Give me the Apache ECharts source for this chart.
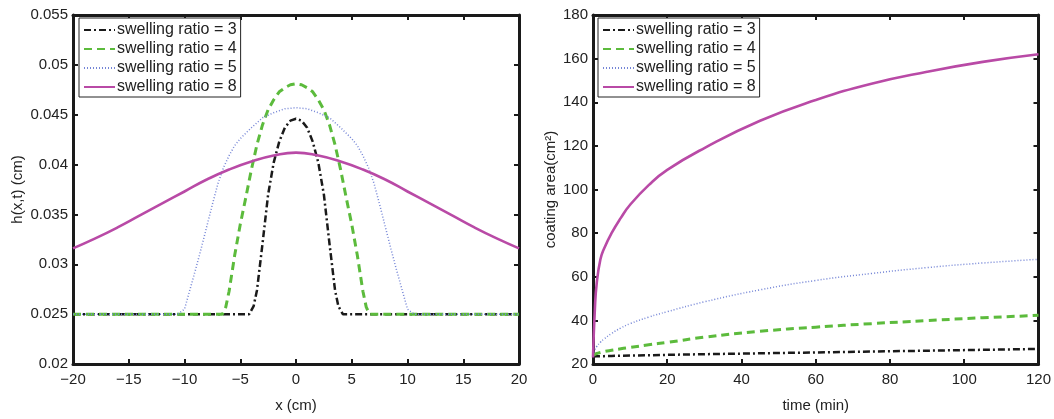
<!DOCTYPE html>
<html><head><meta charset="utf-8">
<script src="https://cdn.jsdelivr.net/npm/echarts@6/dist/echarts.min.js"></script>
<style>html,body{margin:0;padding:0;background:#fff}#c{width:1054px;height:419px}</style>
</head><body><div id="c"></div>
<script>
const seriesNames = ['swelling ratio = 3','swelling ratio = 4','swelling ratio = 5','swelling ratio = 8'];
const seriesColors = ['#1a1a1a','#5cbb3c','#7485d6','#b94aa6'];

// Left panel: h(x,t) profiles
const x3 = [-20,-4.2,-3.8,-3.5,-3,-2.5,-2,-1.5,-1,-0.5,0,0.5,1,1.5,2,2.5,3,3.5,3.8,4.2,20];
const h3 = [0.025,0.025,0.0258,0.0274,0.0321,0.0370,0.0402,0.0423,0.0437,0.0444,0.0446,0.0444,0.0437,0.0423,0.0402,0.0370,0.0321,0.0274,0.0258,0.025,0.025];
const x4 = [-20,-6.6,-6.3,-6,-5.5,-5,-4.5,-4,-3.5,-3,-2.5,-2,-1.5,-1,-0.5,0,0.5,1,1.5,2,2.5,3,3.5,4,4.5,5,5.5,6,6.3,6.6,20];
const h4 = [0.025,0.025,0.0257,0.0273,0.0309,0.0340,0.0367,0.0395,0.0420,0.0440,0.0455,0.0465,0.0473,0.0477,0.0480,0.0481,0.0480,0.0477,0.0473,0.0465,0.0455,0.0440,0.0420,0.0395,0.0367,0.0340,0.0309,0.0273,0.0257,0.025,0.025];
const x5 = [-20,-10.6,-10,-9.5,-9,-8.5,-8,-7.5,-7,-6.5,-6,-5.5,-5,-4,-3,-2,-1,0,1,2,3,4,5,5.5,6,6.5,7,7.5,8,8.5,9,9.5,10,10.6,20];
const h5 = [0.025,0.025,0.0255,0.0275,0.0295,0.0316,0.0338,0.0360,0.0381,0.0397,0.0409,0.0419,0.0426,0.0437,0.0447,0.0452,0.0456,0.0457,0.0456,0.0452,0.0447,0.0437,0.0426,0.0419,0.0409,0.0397,0.0381,0.0360,0.0338,0.0316,0.0295,0.0275,0.0255,0.025,0.025];
const x8 = [-20,-18,-16,-14,-12,-10,-8,-6,-4,-2,0,2,4,6,8,10,12,14,16,18,20];
const h8 = [0.0316,0.0326,0.0337,0.0349,0.0361,0.0373,0.0385,0.0395,0.0403,0.0409,0.0412,0.0409,0.0403,0.0395,0.0385,0.0373,0.0361,0.0349,0.0337,0.0326,0.0316];

// Right panel: coating area vs time
const tMin = [0,0.5,1,2,3,5,7.5,10,15,20,30,45,60,75,90,105,120];
const area3 = [23.4,23.5,23.5,23.6,23.6,23.7,23.8,23.9,24.0,24.2,24.5,24.9,25.3,25.7,26.1,26.5,26.9];
const area4 = [24.0,24.4,24.8,25.3,25.7,26.3,27.0,27.6,28.8,29.9,32.3,35.0,36.9,38.5,39.9,41.2,42.3];
const area5 = [24.0,26.5,28.0,30.0,31.5,34.0,36.5,38.5,41.5,44.0,48.5,54.0,58.3,61.5,64.2,66.3,68.0];
const area8 = [23.0,45.0,57.0,68.0,73.0,80.0,87.0,93.0,102.0,109.0,119.0,131.5,141.0,148.5,154.0,158.5,162.0];

const leftXTicks = {min:-20, max:20, interval:5};
const leftYTicks = {min:0.02, max:0.055, interval:0.005};
const rightXTicks = {min:0, max:120, interval:20};
const rightYTicks = {min:20, max:180, interval:20};

const FONT = "'Liberation Sans', Arial, Helvetica, sans-serif";
const TXT = '#222';
const AXC = '#1a1a1a';

function pairs(xs, ys){ return xs.map((x,i)=>[x, ys[i]]); }
function fmtNum(v){ return String(+v.toFixed(4)).replace('-', '\u2212'); }

function axis(kind, grid, ticks, position, showLabel, name, nameGap){
  const a = {
    type:'value', gridIndex:grid, position:position,
    min:ticks.min, max:ticks.max, interval:ticks.interval,
    splitLine:{show:false},
    axisLine:{show:true, onZero:false, lineStyle:{color:AXC, width:3}},
    axisTick:{show:true, inside:true, length:5, lineStyle:{color:AXC, width:2}},
    axisLabel:{show:showLabel, color:TXT, fontFamily:FONT, fontSize:15, margin: kind==='x'?8:5, formatter:fmtNum},
  };
  if (name){
    a.name = name; a.nameLocation='middle'; a.nameGap=nameGap;
    a.nameTextStyle = {color:TXT, fontFamily:FONT, fontSize:15};
  }
  return a;
}

const lineStyles = [
  {width:2.5, type:[7,3,2,3]},
  {width:3, type:[8,5]},
  {width:1.5, type:[1,2]},
  {width:2.6, type:'solid'}
];

function mk(name, idx, data, xi, yi, smooth){
  return {
    type:'line', name:name, data:data, xAxisIndex:xi, yAxisIndex:yi,
    symbol:'none', showSymbol:false, smooth:smooth, animation:false,
    lineStyle:Object.assign({color:seriesColors[idx]}, lineStyles[idx]),
    itemStyle:{color:seriesColors[idx]}
  };
}

function legend(left){
  return {
    left:left, top:18, orient:'vertical', data:seriesNames,
    itemWidth:31, itemHeight:10, itemGap:3,
    padding:[4,4,2,4],
    itemStyle:{opacity:0},
    backgroundColor:'#fff', borderColor:'#222', borderWidth:1, borderRadius:0,
    textStyle:{color:TXT, fontFamily:FONT, fontSize:16, lineHeight:16, padding:[0,0,0,-3]},
    selectedMode:false
  };
}

const chart = echarts.init(document.getElementById('c'), null, {renderer:'canvas'});
chart.setOption({
  animation:false,
  backgroundColor:'#fff',
  grid:[
    {left:73, right:535, top:15, bottom:55, containLabel:false},
    {left:593, right:15, top:15, bottom:55, containLabel:false}
  ],
  legend:[legend(79), legend(598)],
  xAxis:[
    axis('x',0,leftXTicks,'bottom',true,'x (cm)',34),
    axis('x',0,leftXTicks,'top',false),
    axis('x',1,rightXTicks,'bottom',true,'time (min)',34),
    axis('x',1,rightXTicks,'top',false)
  ],
  yAxis:[
    axis('y',0,leftYTicks,'left',true,'h(x,t) (cm)',48),
    axis('y',0,leftYTicks,'right',false),
    axis('y',1,rightYTicks,'left',true,'coating area(cm\u00B2)',35),
    axis('y',1,rightYTicks,'right',false)
  ],
  series:[
    mk(seriesNames[0],0,pairs(x3,h3),0,0,false),
    mk(seriesNames[1],1,pairs(x4,h4),0,0,false),
    mk(seriesNames[2],2,pairs(x5,h5),0,0,false),
    mk(seriesNames[3],3,pairs(x8,h8),0,0,0.5),
    mk(seriesNames[0],0,pairs(tMin,area3),2,2,false),
    mk(seriesNames[1],1,pairs(tMin,area4),2,2,true),
    mk(seriesNames[2],2,pairs(tMin,area5),2,2,true),
    mk(seriesNames[3],3,pairs(tMin,area8),2,2,true)
  ]
});
</script>
</body></html>
